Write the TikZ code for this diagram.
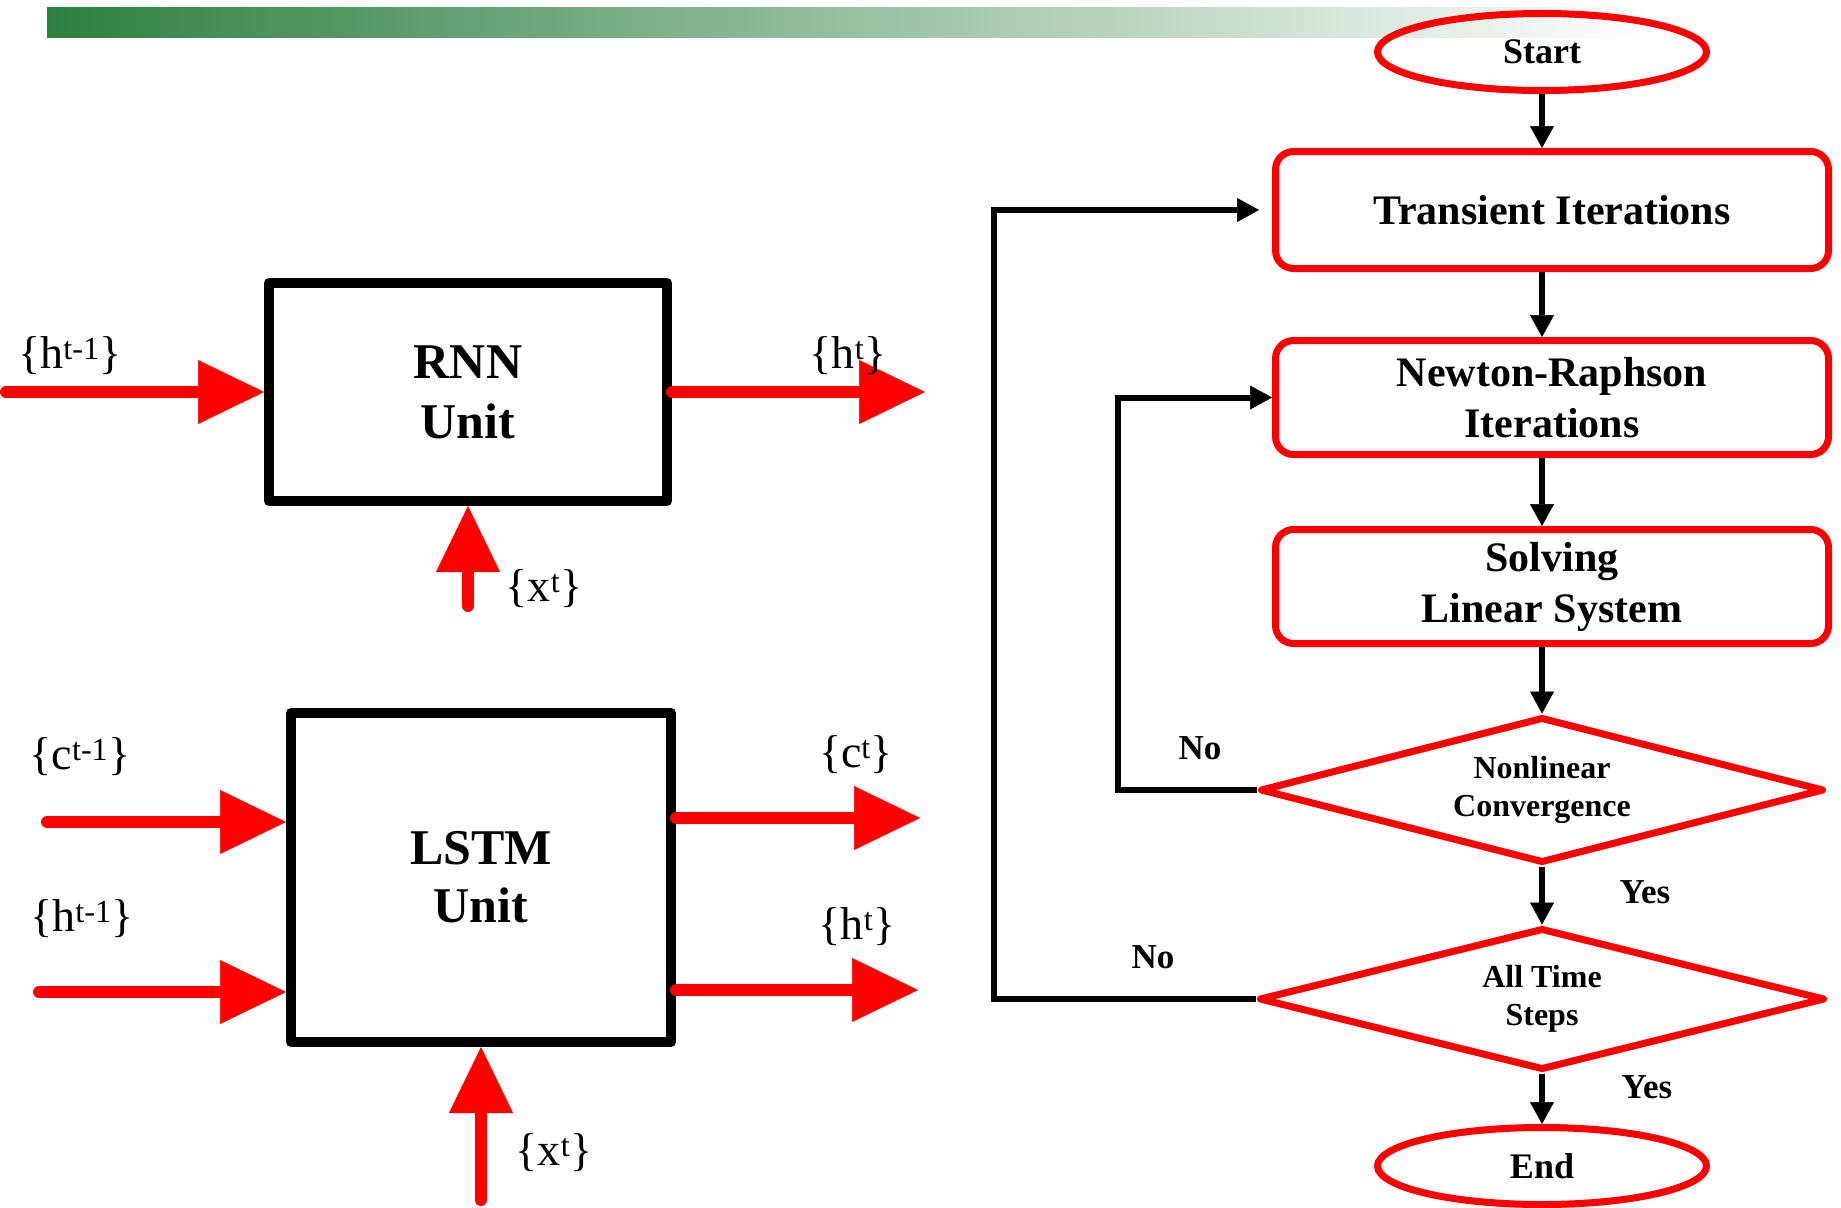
\documentclass[tikz,border=0pt]{standalone}
\usepackage{fontspec}
\setmainfont{Liberation Serif}
\usetikzlibrary{arrows.meta,shapes.geometric,calc}
\definecolor{rred}{RGB}{255,0,0}
\definecolor{gbar}{RGB}{46,128,65}
\definecolor{gmid}{RGB}{160,185,162}
\begin{document}
\begin{tikzpicture}[x=1pt,y=-1pt,
  unitbox/.style={draw=black, line width=10pt, line join=round, inner sep=0pt, align=center, font=\fontsize{50}{60}\selectfont\bfseries},
  fat/.style={draw=rred, line width=12pt, line cap=round, -{Triangle[length=66pt,width=64pt,line width=0.5pt]}, rred},
  lbl/.style={font=\fontsize{46}{50}\selectfont, inner sep=0pt},
  fbox/.style={draw=rred, line width=7pt, rounded corners=18pt, minimum width=553pt, inner sep=0pt, align=center, font=\fontsize{42}{51}\selectfont\bfseries},
  term/.style={ellipse, draw=rred, line width=7pt, minimum width=329pt, minimum height=77pt, inner sep=0pt, font=\fontsize{36}{40}\selectfont\bfseries},
  dec/.style={diamond, draw=rred, line width=7pt, line join=round, minimum width=564pt, minimum height=146pt, aspect=3.86, inner sep=0pt, align=center, font=\fontsize{32}{38}\selectfont\bfseries},
  arr/.style={draw=black, line width=6pt, -{Triangle[length=22pt,width=24pt,line width=0.5pt]}},
  ans/.style={font=\fontsize{35}{40}\selectfont\bfseries, inner sep=0pt}
]
\useasboundingbox (0,0) rectangle (1841,1207);
\fill[white] (0,0) rectangle (1841,1207);
% header bar
\shade[left color=gbar, middle color=gmid, right color=white] (47,8) rectangle (1650,38);

% ---------- RNN ----------
\node[unitbox, minimum width=398pt, minimum height=218pt] (rnn) at (468,392) {RNN\\Unit};
\coordinate (rnnin) at (6,392);
\coordinate (rnnout) at (925,392);
\coordinate (rnnx) at (468,606);
\draw[fat] (rnnin) -- (rnn.west);
\draw[fat] (rnn.east) -- (rnnout);
\draw[fat] (rnnx) -- (rnn.south);
\node[lbl] (lh1) at (70,356) {\{h\textsuperscript{t-1}\}};
\node[lbl] (lh2) at (848,356) {\{h\textsuperscript{t}\}};
\node[lbl] (lx1) at (544,589) {\{x\textsuperscript{t}\}};

% ---------- LSTM ----------
\node[unitbox, minimum width=380pt, minimum height=329pt] (lstm) at (481,877.5) {LSTM\\[-2pt]Unit};
\coordinate (ci) at (47,822);
\coordinate (hi) at (39,992);
\coordinate (co) at (920,818);
\coordinate (ho) at (918,990);
\coordinate (xi) at (481,1200);
\draw[fat] (ci) -- (ci -| lstm.west);
\draw[fat] (hi) -- (hi -| lstm.west);
\draw[fat] (co -| lstm.east) -- (co);
\draw[fat] (ho -| lstm.east) -- (ho);
\draw[fat] (xi) -- (lstm.south);
\node[lbl] (lc3) at (80,757) {\{c\textsuperscript{t-1}\}};
\node[lbl] (lh3) at (82,919) {\{h\textsuperscript{t-1}\}};
\node[lbl] (lc4) at (856,755) {\{c\textsuperscript{t}\}};
\node[lbl] (lh4) at (857,927) {\{h\textsuperscript{t}\}};
\node[lbl] (lx2) at (554,1153) {\{x\textsuperscript{t}\}};

% ---------- Flowchart ----------
\node[term] (start) at (1542,52) {Start};
\node[fbox, minimum height=117pt] (ti) at (1552,210) {Transient Iterations};
\node[fbox, minimum height=114pt] (nr) at (1552,397.5) {Newton-Raphson\\Iterations};
\node[fbox, minimum height=114pt] (sls) at (1552,586.5) {Solving\\Linear System};
\node[dec] (nc) at (1542,790) {Nonlinear\\Convergence};
\node[dec, minimum width=566pt, minimum height=142pt] (ats) at (1542,999) {All Time\\Steps};
\node[term] (end) at (1542,1166) {End};

\draw[arr] (start) -- (start |- ti.north);
\draw[arr] (ti.south -| start) -- (nr.north -| start);
\draw[arr] (nr.south -| start) -- (sls.north -| start);
\draw[arr] (sls.south -| nc) -- (nc.north);
\draw[arr] (nc.south) -- (ats.north);
\draw[arr] (ats.south) -- (end.north);

\coordinate (loopA) at (1118,0);
\coordinate (loopB) at (994,0);
\draw[arr, line join=miter] (nc.west) -- (nc.west -| loopA) |- (nr.west);
\draw[arr, line join=miter] (ats.west) -- (ats.west -| loopB) |- ([xshift=-13pt]ti.west);

\node[ans] (no1) at (1200,748) {No};
\node[ans] (no2) at (1153,957) {No};
\node[ans] (yes1) at (1645,892) {Yes};
\node[ans] (yes2) at (1647,1087) {Yes};
\end{tikzpicture}
\end{document}
